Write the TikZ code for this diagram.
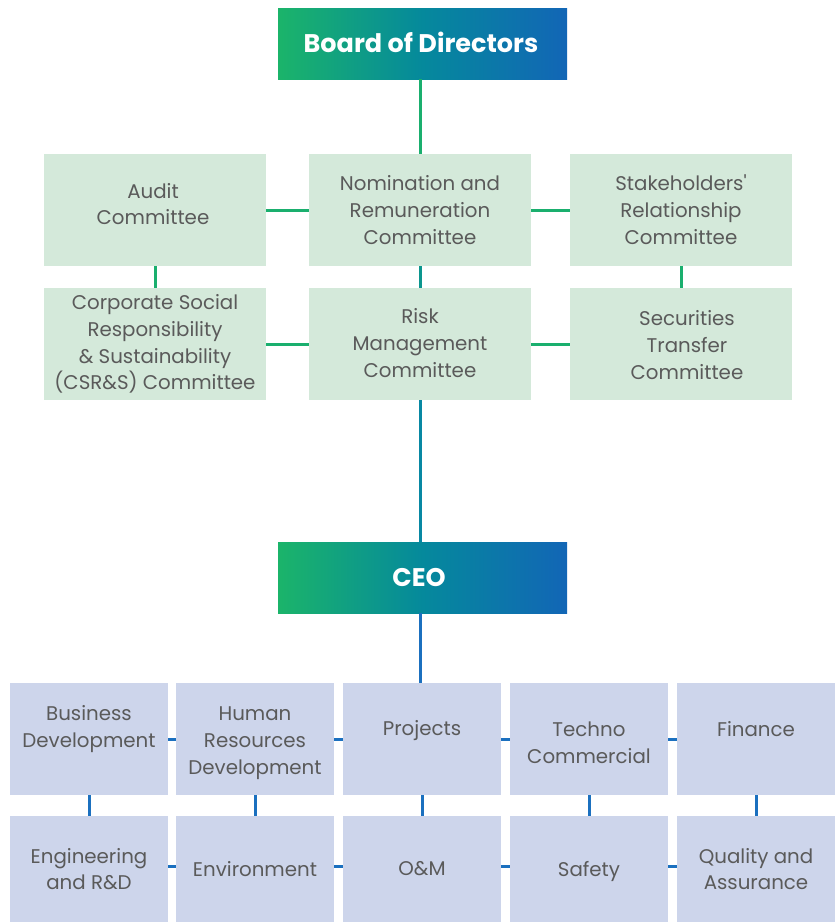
\documentclass[tikz,border=0pt]{standalone}
\usepackage{fontspec}
\setmainfont{Poppins}
\definecolor{gstart}{HTML}{1BB46A}
\definecolor{gmid}{HTML}{05899C}
\definecolor{gend}{HTML}{1266B6}
\definecolor{commfill}{HTML}{D4E9DA}
\definecolor{deptfill}{HTML}{CDD5EB}
\definecolor{txtgray}{HTML}{5A5A5A}
\definecolor{lgreen}{HTML}{1AAF6E}
\definecolor{lteal}{HTML}{0C968E}
\definecolor{lteal2}{HTML}{0888A3}
\definecolor{lblue}{HTML}{1B70BF}
\begin{document}
\begin{tikzpicture}[x=1pt,y=-1pt,
  headbox/.style={minimum width=289pt,minimum height=71pt,inner sep=0pt,
    left color=gstart,right color=gend,middle color=gmid},
  headtxt/.style={text=white,font=\bfseries\fontsize{25.5}{28}\selectfont,inner sep=0pt},
  commbox/.style={fill=commfill,minimum width=222pt,minimum height=112pt,inner sep=0pt},
  deptbox/.style={fill=deptfill,minimum width=158pt,minimum height=112pt,inner sep=0pt},
  deptboxlow/.style={fill=deptfill,minimum width=158pt,minimum height=106pt,inner sep=0pt},
  txt/.style={align=center,text=txtgray,inner sep=0pt,
    font=\fontsize{19.8}{26.8}\selectfont},
  link/.style={line width=3pt}]
\useasboundingbox (0,0) rectangle (836,922);

% Board and CEO
\node[headbox] (board) at (422.5,43.5) {};
\node[headtxt] (boardt) at (421,42) {Board of Directors};
\node[headbox] (ceo) at (422.5,577.5) {};
\node[headtxt] (ceot) at (419,578) {CEO};

% Committees
\node[commbox] (audit) at (155,210) {};
\node[commbox] (nom)   at (420,210) {};
\node[commbox] (stake) at (681,210) {};
\node[commbox] (csr)   at (155,344) {};
\node[commbox] (risk)  at (420,344) {};
\node[commbox] (sec)   at (681,344) {};

\node[txt] (auditt) at (153,204) {Audit\\Committee};
\node[txt] (nomt)   at (420,210) {Nomination and\\Remuneration\\Committee};
\node[txt] (staket) at (681,210) {Stakeholders\textquotesingle\\Relationship\\Committee};
\node[txt] (csrt)   at (155,344) {Corporate Social\\Responsibility\\\& Sustainability\\(CSR\&S) Committee};
\node[txt] (riskt)  at (420,343) {Risk\\Management\\Committee};
\node[txt] (sect)   at (687,345) {Securities\\Transfer\\Committee};

% Departments
\node[deptbox] (bd)   at (89,739)  {};
\node[deptbox] (hr)   at (255,739) {};
\node[deptbox] (proj) at (422,739) {};
\node[deptbox] (tc)   at (589,739) {};
\node[deptbox] (fin)  at (756,739) {};
\node[deptboxlow] (eng)  at (89,869)  {};
\node[deptboxlow] (env)  at (255,869) {};
\node[deptboxlow] (om)   at (422,869) {};
\node[deptboxlow] (saf)  at (589,869) {};
\node[deptboxlow] (qa)   at (756,869) {};

\node[txt] (bdt)   at (89,729)  {Business\\Development};
\node[txt] (hrt)   at (255,743) {Human\\Resources\\Development};
\node[txt] (projt) at (422,731) {Projects};
\node[txt] (tct)   at (589,743) {Techno\\Commercial};
\node[txt] (fint)  at (756,729) {Finance};
\node[txt] (engt)  at (89,869)  {Engineering\\and R\&D};
\node[txt] (envt)  at (255,869) {Environment};
\node[txt] (omt)   at (422,869) {O\&M};
\node[txt] (saft)  at (589,871) {Safety};
\node[txt] (qat)   at (756,869) {Quality and\\Assurance};

% Connectors
\draw[link,lgreen] (board.south -| nom.north) -- (nom.north);
\draw[link,lgreen] (audit.east) -- (nom.west);
\draw[link,lgreen] (nom.east) -- (stake.west);
\draw[link,lgreen] (csr.east) -- (risk.west);
\draw[link,lgreen] (risk.east) -- (sec.west);
\draw[link,lgreen] (audit.south) -- (csr.north);
\draw[link,lgreen] (stake.south) -- (sec.north);
\draw[link,lteal] (nom.south) -- (risk.north);
\draw[link,lteal2] (risk.south) -- (risk.south |- ceo.north);
\draw[link,lblue] (ceo.south -| risk.south) -- (proj.north -| risk.south);

\draw[link,lblue] (bd.east) -- (hr.west);
\draw[link,lblue] (hr.east) -- (proj.west);
\draw[link,lblue] (proj.east) -- (tc.west);
\draw[link,lblue] (tc.east) -- (fin.west);
\draw[link,lblue] ([yshift=3pt]eng.east) -- ([yshift=3pt]env.west);
\draw[link,lblue] ([yshift=3pt]env.east) -- ([yshift=3pt]om.west);
\draw[link,lblue] ([yshift=3pt]om.east) -- ([yshift=3pt]saf.west);
\draw[link,lblue] ([yshift=3pt]saf.east) -- ([yshift=3pt]qa.west);
\draw[link,lblue] (bd.south) -- (eng.north);
\draw[link,lblue] (hr.south) -- (env.north);
\draw[link,lblue] (proj.south) -- (om.north);
\draw[link,lblue] (tc.south) -- (saf.north);
\draw[link,lblue] (fin.south) -- (qa.north);
\end{tikzpicture}
\end{document}
